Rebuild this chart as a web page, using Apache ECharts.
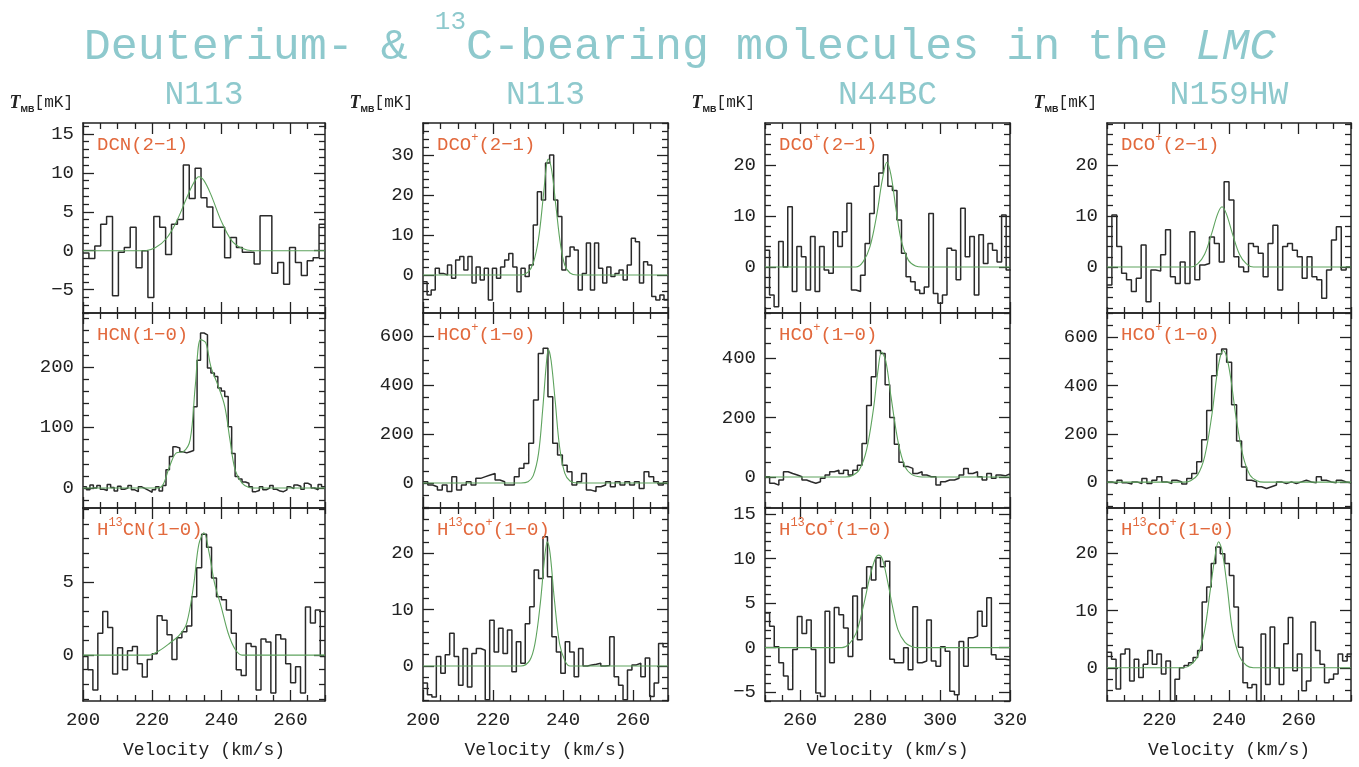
<!DOCTYPE html>
<html><head><meta charset="utf-8">
<script src="https://cdn.jsdelivr.net/npm/echarts@6/dist/echarts.min.js"></script>
<style>html,body{margin:0;padding:0;background:#fff}#c{width:1359px;height:767px}</style>
</head><body><div id="c"></div>
<script>
// ---------------- DATA ----------------
const columnNames = ['N113', 'N113', 'N44BC', 'N159HW'];
const xRangeN113 = [200, 270];
const xRangeN44 = [250, 320];
const xRangeN159 = [205, 275];
const xTicksN113 = [200, 220, 240, 260];
const xTicksN44 = [260, 280, 300, 320];
const xTicksN159 = [220, 240, 260];

// channel grid: [first channel left edge (km/s), channel width (km/s)]
const dcnN113Chan = [200, 1.707];
const dcnN113 = [-0.3, -1, 0.6, 3.4, 4.4, -5.8, -0.2, 0.4, 3, -2.2, 0, -6, 4.4, 3, -0.5, 3.4, 4, 11, 6.7, 10.6, 6.8, 5.6, 3, 3, -0.9, 1.7, 0.4, -0.2, -0.2, -1.7, 4.5, 4.5, -2.9, -1.5, -4.3, 0.4, -1.5, -3.2, -1.3, -0.9, 3.4];
const dcnN113Fit = [[200,0],[218,0],[221,0.4],[224,1.5],[227,3.7],[230,6.8],[232,8.7],[233.5,9.5],[235,9],[237,7.2],[240,3.8],[243,1.3],[246,0.3],[249,0],[270,0]];
const dcnN113YRange = [-8, 16.4];
const dcnN113YTicks = [-5, 0, 5, 10, 15];

const hcnN113Chan = [200, 1];
const hcnN113 = [2, -3, 5, 0, 4, -2, -4, 6, 1, -5, 3, -2, 0, 4, -3, -6, 2, -1, -4, -7, -3, 2, -5, 4,
  30, 52, 68, 66, 60, 58, 60, 62, 134, 211, 256, 253, 198, 190, 184, 165, 160, 151, 101, 57, 19, 15, 10, 8, 2, -6, -4,
  2, -3, 0, 4, -2, -5, -6, -3, 2, -1, 5, 3, -2, 8, 5, 0, -3, 6, 2];
const hcnN113Fit = [[200,0],[221,0],[223,4],[225,35],[227,58],[229,60],[231,80],[232.5,170],[234,245],[235.5,240],[237,200],[239,170],[241,135],[242.5,80],[244,30],[246,8],[248,1],[250,0],[270,0]];
const hcnN113YRange = [-33, 289];
const hcnN113YTicks = [0, 100, 200];

const h13cnN113Chan = [200, 1.43];
const h13cnN113 = [-0.1, -1, -2.4, 1.5, 3, 1.9, -1.3, 0.5, -1, 0.3, 0.6, -0.6, -1.5, -0.3, 0.1, 2.7, 2.4, 1.4, -0.3, 1.2, 1.6, 2, 4, 6, 8.3, 7.4, 5.3, 4, 3.8, 3.1, 1.5, -1, -1.4, 0.8, 0.6, -2.4, 1.1, 0.9, -2.6, 1.4, 1.1, -0.6, -1.9, -0.8, -2.6, 3.3, 2.2, 3.1, -0.1];
const h13cnN113Fit = [[200,0],[219,0],[222,0.3],[225,0.8],[228,1.4],[230,2.2],[232,4.8],[233.5,7.6],[235,8.4],[236.5,7],[238,5],[240,3.3],[242,1.5],[244,0.4],[246,0],[270,0]];
const h13cnN113YRange = [-3.15, 10.1];
const h13cnN113YTicks = [0, 5];

const dcopN113Chan = [200, 1.167];
const dcopN113 = [-1.7, -5, -3.75, 1.7, 0.4, 0, 2.5, -0.8, 3.75, 4.6, 1.25, 4.6, -2, 2, -1.25, 1.7, -6.25, 1.7, -0.8, 2, 3.75, 5.4, 2, -4.2, 1.7, -0.4, 2.5, 12.5, 20.8, 18.75, 28, 30, 18.75, 14.6, 1.25, 4.6, 7, 6.25, -3.75, 0.4, 8, -3.75, 8, 1.7, -2, 2, -0.4, 0.4, 1.25, -1.25, 2.5, 9.2, 8.3, -2, 3.3, 2.5, -5.4, -6.25, -5, -6.25];
const dcopN113Fit = [[200,0],[228,0],[230,0.7],[231.5,3],[233,9],[234.3,19],[235.3,27.5],[235.8,29],[236.8,26],[238,17],[239.3,7.5],[240.5,2.5],[242,0.5],[244,0],[270,0]];
const dcopN113YRange = [-9.5, 38];
const dcopN113YTicks = [0, 10, 20, 30];

const hcopN113Chan = [200, 1.373];
const hcopN113 = [5, -8, -15, -29, -8, -35, 26, -29, -8, 5, -8, 19, 26, 33, 39, 12, 5, -8, -8, 26, 60, 80, 162, 339, 529, 550, 352, 162, 114, 73, 46, -8, 5, 39, -29, -35, -15, -8, 5, -15, 5, -8, 5, -8, 5, -22, 46, 26, 5, -8, 5];
const hcopN113Fit = [[200,0],[228,0],[230,5],[231.5,30],[233,120],[234.2,300],[235.2,480],[235.8,545],[236.6,500],[237.8,330],[239,150],[240.5,40],[242,8],[244,0],[270,0]];
const hcopN113YRange = [-102, 694];
const hcopN113YTicks = [0, 200, 400, 600];

const h13copN113Chan = [200, 1.27];
const h13copN113 = [-3, -5.1, -5.5, 1.7, -1.3, 2, 5.8, 1.7, -3.4, 3.1, -3.7, 2.2, 3.1, 2.8, -6, 8.1, 2.5, 6.7, 2.2, 6.4, -1, 4.3, 0.5, 7.5, 10.5, 17, 15.5, 22.9,
  15.8, 5.2, 2.5, -1.3, 4.3, 2.5, -1.9, 3.1, 0, 0.2, 0.3, 0.5, 0, 0.1, 5.2, -1.9, -3.4, -6, -0.7, 0.2, 0.5, -1.9, 1.4, -5.4, -3, 4, 3.4];
const h13copN113Fit = [[200,0],[228,0],[230.5,1],[232,4],[233.5,11],[234.8,19.5],[235.5,22],[236.3,20],[237.5,12],[239,4],[240.5,1],[242,0],[270,0]];
const h13copN113YRange = [-6.2, 28];
const h13copN113YTicks = [0, 10, 20];

const dcopN44Chan = [250, 1.3];
const dcopN44 = [3.3, -5.5, -7.8, 5, 0, 11.8, -4.8, 4, 2, -4.5, 6, -4.8, 4, -0.6, -1.2, 6.9, 4, 6.9, 12.5, -4.5, -4.8, -1.6, 4.6, 10.5, 15.8, 18.4, 22, 15.8, 15, 9.2, 2.7, -1.9, -2.9, -4.5, -5.2, -3.9, 10.5, -5.2, -7.1, -5.5, 3.7, 3.3, -2.5, 11.5, 2, 6, -5.5, 6.3, 0.7, 4.6, 3.3, 1, 10.2, -0.6];
const dcopN44Fit = [[250,0],[276,0],[278,1],[280,4],[282,10.5],[283.5,17],[284.8,20.5],[286,18],[287.5,11],[289,5],[291,1.3],[293,0.2],[295,0],[320,0]];
const dcopN44YRange = [-9, 28.2];
const dcopN44YTicks = [0, 10, 20];

const hcopN44Chan = [250, 1.32];
const hcopN44 = [1, -21, -27, -10, 18, 12, 7, 1, -10, -16, -21, -16, -4, 7, 18, 23, 12, 23, 7, 23, 40,
  113, 240, 337, 425, 415, 310, 200, 110, 50,
  35, 29, 12, 18, 7, 1, 1, -27, -16, -10, -10, -4, 7, 29, 12, 18, 1, -10, 12, -4, 7, 4, 10];
const hcopN44Fit = [[250,0],[273,0],[275,5],[277,25],[279,90],[281,230],[282.3,360],[283.3,420],[284.5,390],[286,270],[288,120],[290,35],[292,8],[294,1],[296,0],[320,0]];
const hcopN44YRange = [-104, 551];
const hcopN44YTicks = [0, 200, 400];

const h13copN44Chan = [250, 1.32];
const h13copN44 = [3.9, 2.4, 0.1, -1.7, -3.2, -4.7, -0.2, 3.5, 1.6, 3.1, -0.2, -5.1, -5.5, 4.1, -1.7, 4.5, 3.7, 2.2, -1, 5.8, 0.9, 6.7, 9.1, 7.6, 10.1, 9.1, 9.7,
  -1.3, -1.7, -1.7, 0, -2.5, 4.6, -1.7, -1.5, 3.1, -1.5, -2.1, 0.1, -0.4, -4.9, -5.3, 0.7, -2.1, 1.1, 1.3, 4.1, 2.4, 5.6, -0.8, -1.3, -1.3, -1.4];
const h13copN44Fit = [[250,0],[272,0],[274,0.4],[276,1.6],[278,4.5],[280,8],[281.5,10],[282.5,10.4],[283.5,10],[285,7.5],[286.5,4.5],[288,2],[290,0.6],[292,0.1],[294,0],[320,0]];
const h13copN44YRange = [-6, 15.7];
const h13copN44YTicks = [-5, 0, 5, 10, 15];

const dcopN159Chan = [205, 1.4];
const dcopN159 = [-3.5, 10.2, 4, -1.2, -2.5, -4.8, -2.2, 4.3, -6.8, -0.6, -0.8, 2.4, 7.3, -1.9, -3.2, 1, -3.2, 6.9, -2.5, 0.4, 0.7, 5.9, 4.6, 1, 16.7, 13.1, 2, 0, -0.9, 4.6, 4, 2.7, -1.9, 4.6, 8.2, -4.5, 4, 4.6, 3.3, 2, -2.2, 2, -1.9, -2.5, -6.1, -0.6, 5.3, 7.9, -0.6, 0];
const dcopN159Fit = [[205,0],[229,0],[231,0.6],[233,2.5],[235,6.5],[236.8,10.5],[238,11.8],[239.2,10.5],[241,6.5],[243,2.5],[245,0.6],[247,0],[275,0]];
const dcopN159YRange = [-9, 28.2];
const dcopN159YTicks = [0, 10, 20];

const hcopN159Chan = [205, 1.43];
const hcopN159 = [1, -6, 8, -3, -8, 1, -6, 15, -6, 8, 22, 1, -6, 8, 1, -8, 15, 36,
  84, 175, 297, 440, 530, 551, 496, 320, 170, 63,
  8, 1, -19, -26, -19, -12, 1, -6, 1, -6, 1, 8, 1, -3, 22, 8, 1, -3, 8, 1, -3];
const hcopN159Fit = [[205,0],[227,0],[229,6],[231,30],[233,105],[235,270],[236.5,440],[237.5,520],[238.3,545],[239.3,520],[240.5,430],[242,270],[244,110],[246,30],[248,6],[250,0],[275,0]];
const hcopN159YRange = [-107, 700];
const hcopN159YTicks = [0, 200, 400, 600];

const h13copN159Chan = [205, 1.3];
const h13copN159 = [2.7, 1.5, -3.7, 2.4, 3.3, -2.3, 1.5, -1.7, 0.6, 3, 0.6, 2.4, -1.1, 1.2, -5.8, -2, 0, 0.4, 0.9, 1.8, 3, 11.5, 14.1, 18.2, 21.1, 19.9, 18.2, 16.1, 10.6, 3.6, -2.6, -3.5, -2.9, -5.8, 5.9, -2.9, 7.1, 0, -2.9, 4.2, 8.8, -0.5, 2.4, -4, -2.3, 8, 3, 0.6, -2.6, -2, -1.1, 2.4, 1.2, 2.4];
const h13copN159Fit = [[205,0],[227,0],[229,0.5],[231,2],[233,6.5],[234.5,13],[236,19.5],[237,22],[238,20.5],[239.5,14],[241,6.5],[243,2],[245,0.4],[247,0],[275,0]];
const h13copN159YRange = [-5.8, 27.9];
const h13copN159YTicks = [0, 10, 20];

// ---------------- LAYOUT / STYLE ----------------
const FONT = 'Liberation Mono';
const INK = '#222';
const TEAL = '#8ec9cd';
const ORANGE = '#e2693d';
const colLeft = [83, 423, 765, 1107];
const colWidth = [242, 245, 245, 244];
const rowTop = [123, 313, 508];
const rowHeight = [190, 195, 193];
const colX = [
  {range: xRangeN113, ticks: xTicksN113},
  {range: xRangeN113, ticks: xTicksN113},
  {range: xRangeN44, ticks: xTicksN44},
  {range: xRangeN159, ticks: xTicksN159}
];
const L_DCN = '{a|DCN(2−1)}';
const L_HCN = '{a|HCN(1−0)}';
const L_H13CN = '{a|H}{s|13}{a|CN(1−0)}';
const L_DCOP = '{a|DCO}{s|+}{a|(2−1)}';
const L_HCOP = '{a|HCO}{s|+}{a|(1−0)}';
const L_H13COP = '{a|H}{s|13}{a|CO}{s|+}{a|(1−0)}';

const panels = [
  {col:0,row:0,label:L_DCN,chan:dcnN113Chan,vals:dcnN113,fit:dcnN113Fit,yr:dcnN113YRange,yt:dcnN113YTicks,ys:1},
  {col:0,row:1,label:L_HCN,chan:hcnN113Chan,vals:hcnN113,fit:hcnN113Fit,yr:hcnN113YRange,yt:hcnN113YTicks,ys:20},
  {col:0,row:2,label:L_H13CN,chan:h13cnN113Chan,vals:h13cnN113,fit:h13cnN113Fit,yr:h13cnN113YRange,yt:h13cnN113YTicks,ys:1},
  {col:1,row:0,label:L_DCOP,chan:dcopN113Chan,vals:dcopN113,fit:dcopN113Fit,yr:dcopN113YRange,yt:dcopN113YTicks,ys:2},
  {col:1,row:1,label:L_HCOP,chan:hcopN113Chan,vals:hcopN113,fit:hcopN113Fit,yr:hcopN113YRange,yt:hcopN113YTicks,ys:50},
  {col:1,row:2,label:L_H13COP,chan:h13copN113Chan,vals:h13copN113,fit:h13copN113Fit,yr:h13copN113YRange,yt:h13copN113YTicks,ys:2},
  {col:2,row:0,label:L_DCOP,chan:dcopN44Chan,vals:dcopN44,fit:dcopN44Fit,yr:dcopN44YRange,yt:dcopN44YTicks,ys:2},
  {col:2,row:1,label:L_HCOP,chan:hcopN44Chan,vals:hcopN44,fit:hcopN44Fit,yr:hcopN44YRange,yt:hcopN44YTicks,ys:50},
  {col:2,row:2,label:L_H13COP,chan:h13copN44Chan,vals:h13copN44,fit:h13copN44Fit,yr:h13copN44YRange,yt:h13copN44YTicks,ys:1},
  {col:3,row:0,label:L_DCOP,chan:dcopN159Chan,vals:dcopN159,fit:dcopN159Fit,yr:dcopN159YRange,yt:dcopN159YTicks,ys:2},
  {col:3,row:1,label:L_HCOP,chan:hcopN159Chan,vals:hcopN159,fit:hcopN159Fit,yr:hcopN159YRange,yt:hcopN159YTicks,ys:50},
  {col:3,row:2,label:L_H13COP,chan:h13copN159Chan,vals:h13copN159,fit:h13copN159Fit,yr:h13copN159YRange,yt:h13copN159YTicks,ys:2}
];

function minorList(min, max, step, majors) {
  const out = [];
  for (let k = Math.ceil(min / step - 1e-9); k * step <= max + 1e-9; k++) {
    const v = +(k * step).toFixed(6);
    if (!majors.includes(v)) out.push(v);
  }
  return out;
}
function stepData(chan, vals) {
  const v0 = chan[0], dv = chan[1];
  const d = vals.map((t, i) => [+(v0 + i * dv).toFixed(3), t]);
  d.push([+(v0 + vals.length * dv).toFixed(3), vals[vals.length - 1]]);
  return d;
}
function axis(pos, gi, min, max, ticks, len, line, labels, extra) {
  return Object.assign({
    type: 'value', gridIndex: gi, position: pos, min: min, max: max,
    axisLine: {show: line, onZero: false, lineStyle: {color: INK, width: 1.5}},
    axisTick: {show: true, inside: true, length: len, customValues: ticks, lineStyle: {color: INK, width: 1.3}},
    axisLabel: {show: labels, customValues: ticks, fontFamily: FONT, fontSize: 19, color: INK, margin: 9,
      formatter: v => String(v).replace('-', '−')},
    splitLine: {show: false}, minorTick: {show: false}, minorSplitLine: {show: false}
  }, extra || {});
}

const grids = [], xAxes = [], yAxes = [], series = [], graphics = [];
panels.forEach((p, gi) => {
  const L = colLeft[p.col], T = rowTop[p.row], W = colWidth[p.col], H = rowHeight[p.row];
  grids.push({left: L, top: T, width: W, height: H, show: false});
  const xr = colX[p.col].range, xt = colX[p.col].ticks;
  const xm = minorList(xr[0], xr[1], 5, xt);
  const ym = minorList(p.yr[0], p.yr[1], p.ys, p.yt);
  const bottom = p.row === 2;
  xAxes.push(axis('bottom', gi, xr[0], xr[1], xt, 11, true, bottom, bottom ? {
    name: 'Velocity (km/s)', nameLocation: 'middle', nameGap: 40,
    nameTextStyle: {fontFamily: FONT, fontSize: 18, color: INK}
  } : {}));
  xAxes.push(axis('bottom', gi, xr[0], xr[1], xm, 6, false, false));
  xAxes.push(axis('top', gi, xr[0], xr[1], xt, 11, true, false));
  xAxes.push(axis('top', gi, xr[0], xr[1], xm, 6, false, false));
  yAxes.push(axis('left', gi, p.yr[0], p.yr[1], p.yt, 11, true, true));
  yAxes.push(axis('left', gi, p.yr[0], p.yr[1], ym, 6, false, false));
  yAxes.push(axis('right', gi, p.yr[0], p.yr[1], p.yt, 11, true, false));
  yAxes.push(axis('right', gi, p.yr[0], p.yr[1], ym, 6, false, false));
  series.push({
    type: 'line', xAxisIndex: 4 * gi, yAxisIndex: 4 * gi, data: stepData(p.chan, p.vals),
    step: 'end', symbol: 'none', clip: true, lineStyle: {color: '#2a2a2a', width: 1.5}, z: 2
  });
  series.push({
    type: 'line', xAxisIndex: 4 * gi, yAxisIndex: 4 * gi, data: p.fit,
    smooth: 0.35, symbol: 'none', clip: true, lineStyle: {color: '#5ea35e', width: 1.1}, z: 3
  });
  graphics.push({
    type: 'text', x: L + 14, y: T + 22, silent: true, z: 50,
    style: {
      text: p.label, align: 'left', verticalAlign: 'middle', textAlign: 'left', textVerticalAlign: 'middle',
      rich: {
        a: {fontFamily: FONT, fontSize: 19, fill: ORANGE, color: ORANGE, lineHeight: 26},
        s: {fontFamily: FONT, fontSize: 12, fill: ORANGE, color: ORANGE, lineHeight: 12, verticalAlign: 'top'}
      }
    }
  });
});

// column headers and y-unit labels
columnNames.forEach((name, c) => {
  graphics.push({
    type: 'text', x: colLeft[c] + colWidth[c] / 2, y: 95, silent: true,
    style: {text: name, fontFamily: FONT, fontSize: 33, fill: TEAL, align: 'center', verticalAlign: 'middle',
      textAlign: 'center', textVerticalAlign: 'middle'}
  });
  graphics.push({
    type: 'text', x: colLeft[c] - 10, y: 103, silent: true,
    style: {
      text: '{t|T}{s|MB}{a|[mK]}', align: 'right', verticalAlign: 'middle', textAlign: 'right', textVerticalAlign: 'middle',
      rich: {
        t: {fontFamily: 'Liberation Serif', fontStyle: 'italic', fontWeight: 'bold', fontSize: 18, fill: INK, lineHeight: 22},
        s: {fontFamily: 'Liberation Sans', fontWeight: 'bold', fontSize: 9, fill: INK, lineHeight: 10, verticalAlign: 'bottom'},
        a: {fontFamily: FONT, fontSize: 16, fill: INK, lineHeight: 22}
      }
    }
  });
});

// main title
graphics.push({
  type: 'text', x: 680, y: 47, silent: true,
  style: {
    text: '{a|Deuterium- & }{s|13}{a|C-bearing molecules in the }{i|LMC}',
    align: 'center', verticalAlign: 'middle', textAlign: 'center', textVerticalAlign: 'middle',
    rich: {
      a: {fontFamily: FONT, fontSize: 45, fill: TEAL, lineHeight: 76},
      i: {fontFamily: FONT, fontSize: 45, fontStyle: 'italic', fill: TEAL, lineHeight: 76},
      s: {fontFamily: FONT, fontSize: 26, fill: TEAL, lineHeight: 24, verticalAlign: 'top'}
    }
  }
});

const chart = echarts.init(document.getElementById('c'), null, {renderer: 'canvas'});
chart.setOption({
  animation: false,
  backgroundColor: '#fff',
  grid: grids,
  xAxis: xAxes,
  yAxis: yAxes,
  series: series,
  graphic: graphics
});
</script></body></html>
